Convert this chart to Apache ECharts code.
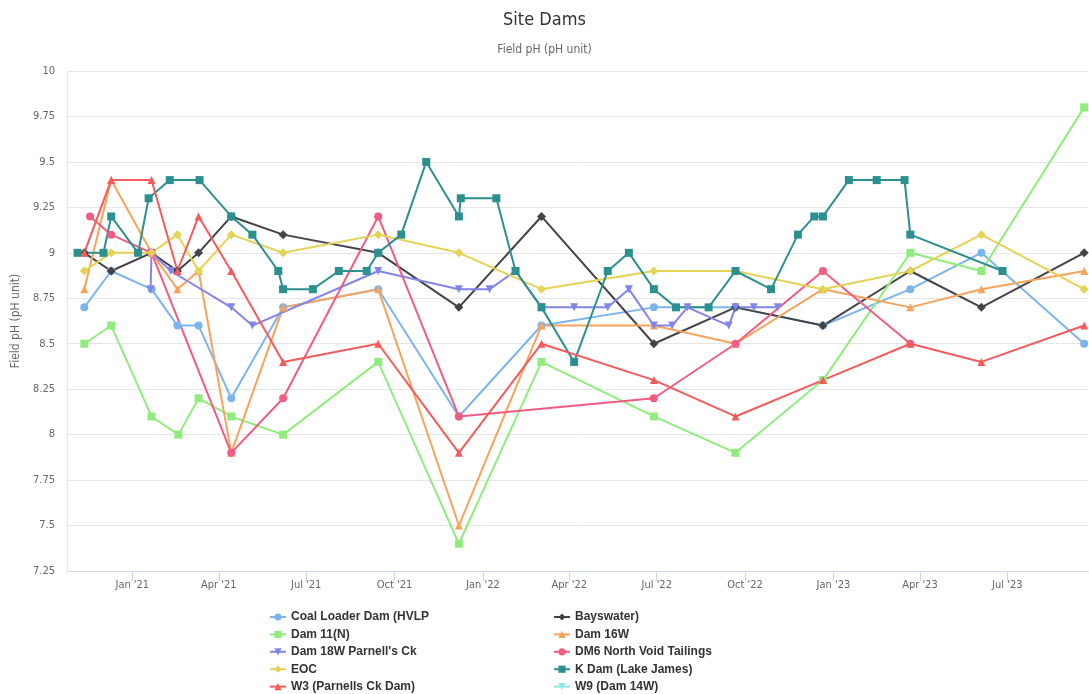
<!DOCTYPE html>
<html>
<head>
<meta charset="utf-8">
<title>Site Dams</title>
<script src="https://cdn.jsdelivr.net/npm/echarts@6.0.0/dist/echarts.min.js"></script>
<style>
  html, body { margin: 0; padding: 0; background: #fff; }
  #main { width: 1089px; height: 694px; }
</style>
</head>
<body>
<div id="main"></div>
<script>
// series names, in legend order
var seriesNames = [
    'Coal Loader Dam (HVLP', 'Bayswater)', 'Dam 11(N)', 'Dam 16W',
    "Dam 18W Parnell's Ck", 'DM6 North Void Tailings', 'EOC',
    'K Dam (Lake James)', 'W3 (Parnells Ck Dam)', 'W9 (Dam 14W)'
];

// x axis tick labels (quarters)
var tickMonths = [
    '2021-01', '2021-04', '2021-07', '2021-10', '2022-01', '2022-04',
    '2022-07', '2022-10', '2023-01', '2023-04', '2023-07'
];

// readings [date, pH]
var coalLoader = [
    ['2020-11-12', 8.7], ['2020-12-10', 8.9], ['2021-01-21', 8.8], ['2021-02-17', 8.6],
    ['2021-03-11', 8.6], ['2021-04-14', 8.2], ['2021-06-07', 8.7], ['2021-09-14', 8.8],
    ['2021-12-07', 8.1], ['2022-03-03', 8.6], ['2022-06-28', 8.7], ['2022-09-21', 8.7],
    ['2022-12-21', 8.6], ['2023-03-22', 8.8], ['2023-06-04', 9.0], ['2023-09-19', 8.5]
];
var bayswater = [
    ['2020-11-12', 9.0], ['2020-12-10', 8.9], ['2021-01-21', 9.0], ['2021-02-17', 8.9],
    ['2021-03-11', 9.0], ['2021-04-14', 9.2], ['2021-06-07', 9.1], ['2021-09-14', 9.0],
    ['2021-12-07', 8.7], ['2022-03-03', 9.2], ['2022-06-28', 8.5], ['2022-09-21', 8.7],
    ['2022-12-21', 8.6], ['2023-03-22', 8.9], ['2023-06-04', 8.7], ['2023-09-19', 9.0]
];
var dam11 = [
    ['2020-11-12', 8.5], ['2020-12-10', 8.6], ['2021-01-21', 8.1], ['2021-02-18', 8.0],
    ['2021-03-11', 8.2], ['2021-04-14', 8.1], ['2021-06-07', 8.0], ['2021-09-14', 8.4],
    ['2021-12-07', 7.4], ['2022-03-03', 8.4], ['2022-06-28', 8.1], ['2022-09-21', 7.9],
    ['2022-12-21', 8.3], ['2023-03-22', 9.0], ['2023-06-04', 8.9], ['2023-09-19', 9.8]
];
var dam16W = [
    ['2020-11-12', 8.8], ['2020-12-10', 9.4], ['2021-01-21', 9.0], ['2021-02-17', 8.8],
    ['2021-03-11', 8.9], ['2021-04-14', 7.9], ['2021-06-07', 8.7], ['2021-09-14', 8.8],
    ['2021-12-07', 7.5], ['2022-03-03', 8.6], ['2022-06-28', 8.6], ['2022-09-21', 8.5],
    ['2022-12-21', 8.8], ['2023-03-22', 8.7], ['2023-06-04', 8.8], ['2023-09-19', 8.9]
];
var dam18W = [
    ['2021-01-20', 8.8], ['2021-01-21', 9.0], ['2021-02-10', 8.9], ['2021-04-14', 8.7],
    ['2021-05-06', 8.6], ['2021-09-14', 8.9], ['2021-12-07', 8.8], ['2022-01-08', 8.8],
    ['2022-02-04', 8.9], ['2022-03-03', 8.7], ['2022-04-06', 8.7], ['2022-05-11', 8.7],
    ['2022-06-02', 8.8], ['2022-06-28', 8.6], ['2022-07-17', 8.6], ['2022-08-02', 8.7],
    ['2022-09-14', 8.6], ['2022-09-21', 8.7], ['2022-10-10', 8.7], ['2022-11-04', 8.7]
];
var dm6 = [
    ['2020-11-18', 9.2], ['2020-12-10', 9.1], ['2021-01-21', 9.0], ['2021-04-14', 7.9],
    ['2021-06-07', 8.2], ['2021-09-14', 9.2], ['2021-12-07', 8.1], ['2022-06-28', 8.2],
    ['2022-09-21', 8.5], ['2022-12-21', 8.9], ['2023-03-22', 8.5]
];
var eoc = [
    ['2020-11-12', 8.9], ['2020-12-10', 9.0], ['2021-01-21', 9.0], ['2021-02-17', 9.1],
    ['2021-03-11', 8.9], ['2021-04-14', 9.1], ['2021-06-07', 9.0], ['2021-09-14', 9.1],
    ['2021-12-07', 9.0], ['2022-03-03', 8.8], ['2022-06-28', 8.9], ['2022-09-21', 8.9],
    ['2022-12-21', 8.8], ['2023-03-22', 8.9], ['2023-06-04', 9.1], ['2023-09-19', 8.8]
];
var kDam = [
    ['2020-11-05', 9.0], ['2020-12-02', 9.0], ['2020-12-10', 9.2], ['2021-01-07', 9.0],
    ['2021-01-18', 9.3], ['2021-02-09', 9.4], ['2021-03-12', 9.4], ['2021-04-14', 9.2],
    ['2021-05-06', 9.1], ['2021-06-02', 8.9], ['2021-06-07', 8.8], ['2021-07-08', 8.8],
    ['2021-08-04', 8.9], ['2021-09-02', 8.9], ['2021-09-14', 9.0], ['2021-10-08', 9.1],
    ['2021-11-03', 9.5], ['2021-12-07', 9.2], ['2021-12-09', 9.3], ['2022-01-15', 9.3],
    ['2022-02-04', 8.9], ['2022-03-03', 8.7], ['2022-04-06', 8.4], ['2022-05-11', 8.9],
    ['2022-06-02', 9.0], ['2022-06-28', 8.8], ['2022-07-21', 8.7], ['2022-08-24', 8.7],
    ['2022-09-21', 8.9], ['2022-10-28', 8.8], ['2022-11-25', 9.1], ['2022-12-12', 9.2],
    ['2022-12-21', 9.2], ['2023-01-17', 9.4], ['2023-02-15', 9.4], ['2023-03-16', 9.4],
    ['2023-03-22', 9.1], ['2023-06-26', 8.9]
];
var w3 = [
    ['2020-11-12', 9.0], ['2020-12-10', 9.4], ['2021-01-21', 9.4], ['2021-02-17', 8.9],
    ['2021-03-11', 9.2], ['2021-04-14', 8.9], ['2021-06-07', 8.4], ['2021-09-14', 8.5],
    ['2021-12-07', 7.9], ['2022-03-03', 8.5], ['2022-06-28', 8.3], ['2022-09-21', 8.1],
    ['2022-12-21', 8.3], ['2023-03-22', 8.5], ['2023-06-04', 8.4], ['2023-09-19', 8.6]
];
var w9 = [];

var seriesData = [coalLoader, bayswater, dam11, dam16W, dam18W, dm6, eoc, kDam, w3, w9];

// highcharts-like palette and marker cycle
var colors = ['#7cb5ec', '#434348', '#90ed7d', '#f7a35c', '#8085e9',
              '#f15c80', '#e4d354', '#2b908f', '#f45b5b', '#91e8e1'];
var triangleDown = 'path://M0,0L10,0L5,9Z';
var symbols = ['circle', 'diamond', 'rect', 'triangle', triangleDown];

var monthNames = ['Jan', 'Feb', 'Mar', 'Apr', 'May', 'Jun',
                  'Jul', 'Aug', 'Sep', 'Oct', 'Nov', 'Dec'];

function toTime(str) {
    var p = str.split('-');
    return new Date(+p[0], +p[1] - 1, p[2] ? +p[2] : 1).getTime();
}

var tickValues = tickMonths.map(toTime);

var series = seriesNames.map(function (name, i) {
    var sym = symbols[i % 5];
    return {
        name: name,
        type: 'line',
        data: seriesData[i].map(function (d) { return [toTime(d[0]), d[1]]; }),
        symbol: sym,
        symbolSize: sym === 'diamond' ? 9 : 8,
        showAllSymbol: true,
        lineStyle: { width: 2, color: colors[i] },
        itemStyle: { color: colors[i] },
        emphasis: { disabled: true }
    };
});

var legendText = { fontFamily: 'Liberation Sans', fontWeight: 'bold', fontSize: 12, color: '#333', lineHeight: 14 };

var myChart = echarts.init(document.getElementById('main'));

myChart.setOption({
    animation: false,
    color: colors,
    title: {
        text: 'Site Dams',
        subtext: 'Field pH (pH unit)',
        left: 'center',
        top: 6,
        itemGap: 15,
        textStyle: { fontFamily: 'DejaVu Sans Condensed', fontSize: 18, fontWeight: 'normal', color: '#333' },
        subtextStyle: { fontFamily: 'DejaVu Sans Condensed', fontSize: 12, color: '#666' }
    },
    // two vertical legends give the two aligned columns
    legend: [{
        orient: 'vertical',
        left: 269,
        top: 610,
        padding: 0,
        itemWidth: 16,
        itemHeight: 9,
        itemGap: 3.4,
        data: seriesNames.filter(function (n, i) { return i % 2 === 0; }),
        textStyle: legendText
    }, {
        orient: 'vertical',
        left: 553,
        top: 610,
        padding: 0,
        itemWidth: 16,
        itemHeight: 9,
        itemGap: 3.4,
        data: seriesNames.filter(function (n, i) { return i % 2 === 1; }),
        textStyle: legendText
    }],
    grid: { left: 67, right: 1, top: 71, bottom: 123 },
    // dates are plotted as timestamps on a value axis so the quarter ticks can be placed exactly
    xAxis: {
        type: 'value',
        min: toTime('2020-10-25'),
        max: toTime('2023-09-23'),
        axisLine: { lineStyle: { color: '#ccd6eb', width: 1 } },
        axisTick: { show: true, length: 10, customValues: tickValues, lineStyle: { color: '#ccd6eb' } },
        axisLabel: {
            customValues: tickValues,
            margin: 9,
            color: '#666',
            fontFamily: 'DejaVu Sans Condensed',
            fontSize: 11,
            formatter: function (v) {
                var d = new Date(v);
                return monthNames[d.getMonth()] + " '" + String(d.getFullYear()).slice(2);
            }
        },
        splitLine: { show: false }
    },
    yAxis: {
        type: 'value',
        min: 7.25,
        max: 10,
        interval: 0.25,
        name: 'Field pH (pH unit)',
        nameLocation: 'middle',
        nameRotate: 90,
        nameGap: 43,
        nameTextStyle: { fontFamily: 'DejaVu Sans Condensed', fontSize: 12, color: '#666' },
        axisLine: { show: true, lineStyle: { color: '#e6e6e6' } },
        axisTick: { show: false },
        axisLabel: { color: '#666', fontFamily: 'DejaVu Sans Condensed', fontSize: 11, margin: 12 },
        splitLine: { lineStyle: { color: '#e6e6e6' } }
    },
    series: series
});
</script>
</body>
</html>
